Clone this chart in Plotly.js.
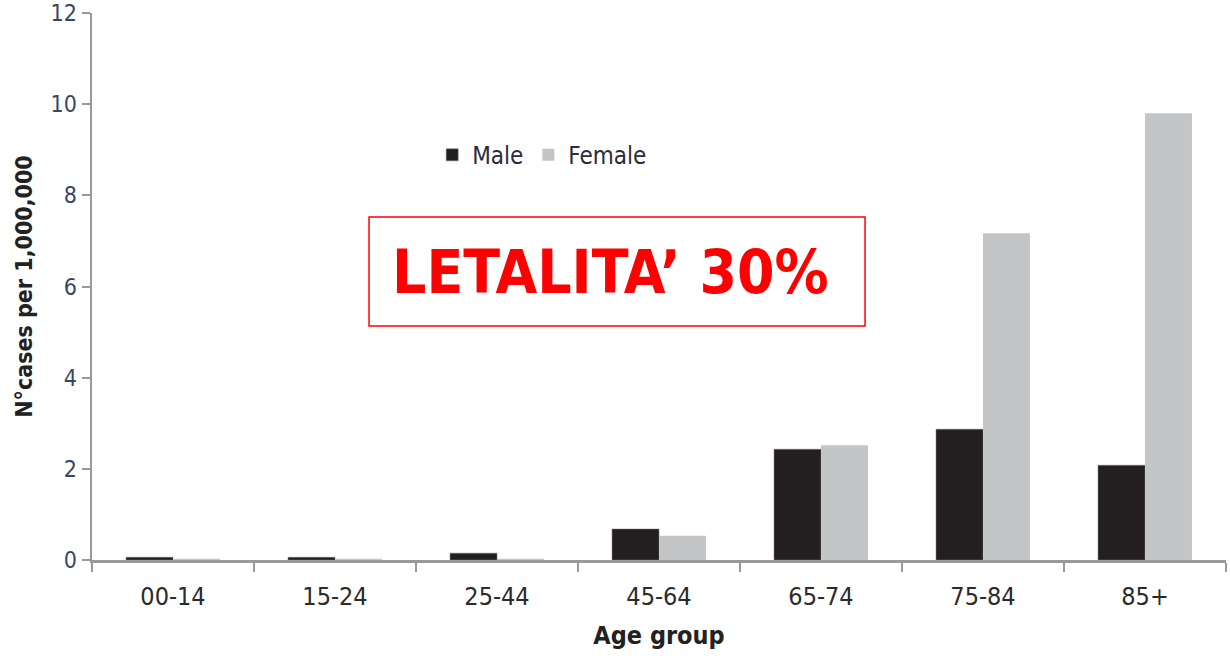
<!DOCTYPE html>
<html>
<head>
<meta charset="utf-8">
<script src="https://cdn.plot.ly/plotly-3.0.1.min.js"></script>
<style>html,body{margin:0;padding:0;background:#fff;}#chart{width:1230px;height:656px;}</style>
</head>
<body>
<div id="chart"></div>
<script>
const categories = ["00-14", "15-24", "25-44", "45-64", "65-74", "75-84", "85+"];
const maleValues = [0.06, 0.06, 0.15, 0.68, 2.43, 2.87, 2.08];
const femaleValues = [0.03, 0.03, 0.03, 0.53, 2.52, 7.17, 9.8];
const yTicks = [0, 2, 4, 6, 8, 10, 12];
const seriesNames = ["Male", "Female"];
const annotationText = "LETALITA\u2019 30%";

const narrow = "'Liberation Sans Narrow', 'DejaVu Sans Condensed', 'Noto Sans', sans-serif";

const traces = [
  {type: "bar", name: seriesNames[0], x: categories, y: maleValues,
   marker: {color: "#231f20", line: {color: "#777", width: 0.5}}},
  {type: "bar", name: seriesNames[1], x: categories, y: femaleValues,
   marker: {color: "#c4c5c7", line: {width: 0}}}
];

const layout = {
  width: 1230, height: 656,
  margin: {l: 92, r: 4, t: 13, b: 96},
  paper_bgcolor: "#fff", plot_bgcolor: "#fff",
  barmode: "group", bargap: 0.42, bargroupgap: 0,
  font: {family: narrow, color: "#333"},
  xaxis: {
    type: "category", tickson: "boundaries", ticks: "outside", ticklen: 9, tickwidth: 2,
    tickcolor: "#999", showline: true, linecolor: "#999", linewidth: 2.5,
    showgrid: false, zeroline: false, ticklabelstandoff: 12,
    tickfont: {family: narrow, size: 25, color: "#2b2b2b"},
    title: {text: "Age group", font: {family: narrow, size: 25, color: "#222", weight: "bold"}, standoff: 17}
  },
  yaxis: {
    range: [0, 12], tickvals: yTicks, ticks: "outside", ticklen: 8, tickwidth: 2,
    tickcolor: "#999", showline: true, linecolor: "#999", linewidth: 2.5,
    showgrid: false, zeroline: false,
    tickfont: {family: narrow, size: 23, color: "#3a4660"},
    title: {text: "N°cases per 1,000,000", font: {family: narrow, size: 23, color: "#222", weight: "bold"}, standoff: 12}
  },
  showlegend: true,
  legend: {orientation: "h", x: 0.3, xanchor: "left", y: 0.74, yanchor: "middle",
           font: {family: narrow, size: 24, color: "#2b2b3b"}, bgcolor: "rgba(0,0,0,0)",
           itemwidth: 30, traceorder: "normal"},
  shapes: [{type: "rect", xref: "paper", yref: "paper", x0: 0.2443, x1: 0.6817, y0: 0.4278, y1: 0.627,
            line: {color: "#ff0000", width: 1.5}, fillcolor: "rgba(0,0,0,0)"}],
  annotations: [{xref: "paper", yref: "paper", x: 0.2625, y: 0.5265, xanchor: "left", yanchor: "middle",
                 text: annotationText, showarrow: false,
                 font: {family: narrow, size: 60, color: "#ff0000", weight: "bold"}}]
};

Plotly.newPlot("chart", traces, layout, {displayModeBar: false, staticPlot: true});
</script>
</body>
</html>
